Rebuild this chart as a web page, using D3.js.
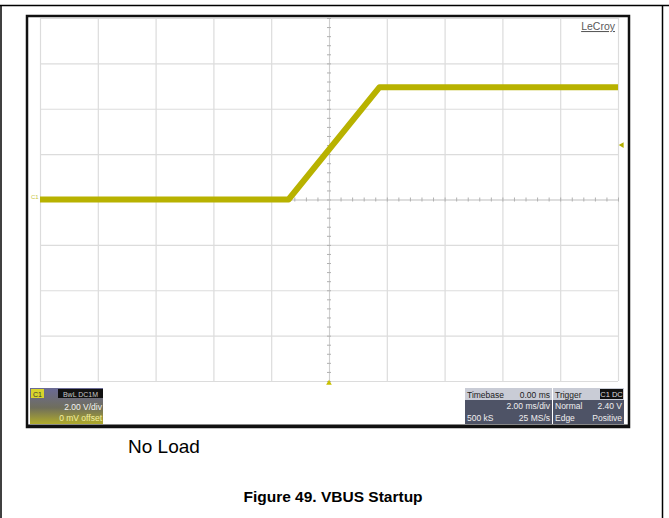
<!DOCTYPE html>
<html><head><meta charset="utf-8">
<script src="https://cdn.jsdelivr.net/npm/d3@7"></script>
<style>
html,body{margin:0;padding:0;background:#fff;}
svg{display:block;font-family:Arial,"Liberation Sans",sans-serif;}
</style></head>
<body>
<svg id="c" width="669" height="518"></svg>
<script>
// ---- data ----
const timeMs   = [-10, -1.4, 1.75, 10];       // ms
const voltsV   = [0.0, 0.0, 4.95, 4.95];      // V
const xDivs    = d3.range(-10, 10.01, 2);     // 2 ms/div
const yDivs    = d3.range(-8, 8.01, 2);       // 2 V/div
const triggerLevel = 2.40;
const channelInfo = ["C1", "BwL DC1M", "2.00 V/div", "0 mV offset"];
const timebaseInfo = [["Timebase", "0.00 ms"], ["", "2.00 ms/div"], ["500 kS", "25 MS/s"]];
const triggerInfo  = [["Trigger", "C1 DC"], ["Normal", "2.40 V"], ["Edge", "Positive"]];
const caption = "No Load";
const title = "Figure 49. VBUS Startup";

const svg = d3.select("#c");
// page frame
svg.append("line").attr("x1",0).attr("x2",669).attr("y1",5.5).attr("y2",5.5).attr("stroke","#000").attr("stroke-width",1.5);
svg.append("line").attr("x1",1).attr("x2",1).attr("y1",5).attr("y2",518).attr("stroke","#000").attr("stroke-width",1.5);
svg.append("line").attr("x1",662.5).attr("x2",662.5).attr("y1",5).attr("y2",518).attr("stroke","#000").attr("stroke-width",1.5);

// scope screen
svg.append("rect").attr("x",27).attr("y",16).attr("width",602).attr("height",411)
  .attr("fill","#fff").attr("stroke","#111").attr("stroke-width",2.5);
svg.append("rect").attr("x",27).attr("y",424.5).attr("width",602).attr("height",3).attr("fill","#111");

const L=40, R=618, T=18, B=381;
const x = d3.scaleLinear().domain([-10,10]).range([L,R]);
const y = d3.scaleLinear().domain([-8,8]).range([B,T]);

const g = svg.append("g");
// grid
g.append("g").attr("transform",`translate(0,${B})`)
  .call(d3.axisBottom(x).tickValues(xDivs).tickSize(-(B-T)).tickFormat(""))
  .call(a=>{a.select(".domain").remove(); a.selectAll("line").attr("stroke","#dcdcdc").attr("stroke-width",1.2);});
g.append("g").attr("transform",`translate(${L},0)`)
  .call(d3.axisLeft(y).tickValues(yDivs).tickSize(-(R-L)).tickFormat(""))
  .call(a=>{a.select(".domain").remove(); a.selectAll("line").attr("stroke","#dcdcdc").attr("stroke-width",1.2);});
// center axes with minor ticks
const minorX = d3.range(-10,10.01,0.4);
const minorY = d3.range(-8,8.01,0.4);
g.append("g").attr("transform",`translate(0,${y(0)})`)
  .call(d3.axisBottom(x).tickValues(minorX).tickSizeInner(2).tickSizeOuter(0).tickFormat(""))
  .call(a=>{a.select(".domain").attr("stroke","#cfcfcf"); a.selectAll(".tick line").attr("stroke","#b0b0b0").attr("y1",-2);});
g.append("g").attr("transform",`translate(${x(0)},0)`)
  .call(d3.axisLeft(y).tickValues(minorY).tickSizeInner(2).tickSizeOuter(0).tickFormat(""))
  .call(a=>{a.select(".domain").attr("stroke","#cfcfcf"); a.selectAll(".tick line").attr("stroke","#b0b0b0").attr("x1",2);});

// LeCroy logo
svg.append("text").attr("x",615).attr("y",30).attr("text-anchor","end").attr("font-size",10.5)
  .attr("fill","#5a5a5a").attr("text-decoration","underline").text("LeCroy");

// trace
const pts = timeMs.map((t,i)=>[t,voltsV[i]]);
g.append("path").datum(pts)
  .attr("d", d3.line().x(d=>x(d[0])).y(d=>y(d[1])))
  .attr("fill","none").attr("stroke","#b8b200").attr("stroke-width",6).attr("stroke-linejoin","round");

// markers
svg.append("text").attr("x",31).attr("y",y(0)-1).attr("font-size",6).attr("fill","#c8c640").text("C1");
svg.append("path").attr("d",d3.symbol(d3.symbolTriangle,14)())
  .attr("transform",`translate(${R+4},${y(triggerLevel)}) rotate(-90)`).attr("fill","#b5b000");
svg.append("path").attr("d",d3.symbol(d3.symbolTriangle,14)())
  .attr("transform",`translate(${x(0)},${B+2})`).attr("fill","#c8c000");

// channel info box
const defs = svg.append("defs");
const gr = defs.append("linearGradient").attr("id","chg").attr("x1","0").attr("y1","0").attr("x2","0").attr("y2","1");
gr.append("stop").attr("offset","0%").attr("stop-color","#6a6a96");
gr.append("stop").attr("offset","55%").attr("stop-color","#6f6e5c");
gr.append("stop").attr("offset","100%").attr("stop-color","#b0ab2a");
const cb = svg.append("g");
cb.append("rect").attr("x",30).attr("y",388).attr("width",73).attr("height",36).attr("fill","url(#chg)");
cb.append("rect").attr("x",31).attr("y",389).attr("width",13).attr("height",9).attr("fill","#d8d42c");
cb.append("text").attr("x",37.5).attr("y",396.5).attr("text-anchor","middle").attr("font-size",7).attr("fill","#333").text(channelInfo[0]);
cb.append("rect").attr("x",58).attr("y",389).attr("width",45).attr("height",9).attr("fill","#111");
cb.append("text").attr("x",80.5).attr("y",396.5).attr("text-anchor","middle").attr("font-size",7).attr("fill","#c8c8c8").text(channelInfo[1]);
cb.append("text").attr("x",102).attr("y",410).attr("text-anchor","end").attr("font-size",8.5).attr("fill","#f2f2f2").text(channelInfo[2]);
cb.append("text").attr("x",102).attr("y",421).attr("text-anchor","end").attr("font-size",8.5).attr("fill","#f4f0a0").text(channelInfo[3]);

// timebase / trigger boxes
function infoBox(x0, w, rows, blackTag){
  const b = svg.append("g");
  b.append("rect").attr("x",x0).attr("y",388).attr("width",w).attr("height",36).attr("fill","#4e5366");
  b.append("rect").attr("x",x0).attr("y",388).attr("width",w).attr("height",12).attr("fill","#c9ccd6");
  rows.forEach((r,i)=>{
    const yy = 397.5 + i*11.5;
    const col = i===0 ? "#222" : "#eeeeee";
    b.append("text").attr("x",x0+2).attr("y",yy).attr("font-size",8.5).attr("fill",col).text(r[0]);
    if(i===0 && blackTag){
      b.append("rect").attr("x",x0+w-24).attr("y",389).attr("width",23).attr("height",10).attr("fill","#111");
      b.append("text").attr("x",x0+w-12.5).attr("y",397).attr("text-anchor","middle").attr("font-size",7.5).attr("fill","#ddd").text(r[1]);
    } else {
      b.append("text").attr("x",x0+w-2).attr("y",yy).attr("text-anchor","end").attr("font-size",8.5).attr("fill",col).text(r[1]);
    }
  });
}
infoBox(465, 87, timebaseInfo, false);
infoBox(553, 71, triggerInfo, true);

// captions
svg.append("text").attr("x",128).attr("y",453).attr("font-size",19).attr("fill","#000").text(caption);
svg.append("text").attr("x",333).attr("y",502).attr("text-anchor","middle").attr("font-size",15.5).attr("font-weight","bold").attr("fill","#000").text(title);
</script>
</body></html>
